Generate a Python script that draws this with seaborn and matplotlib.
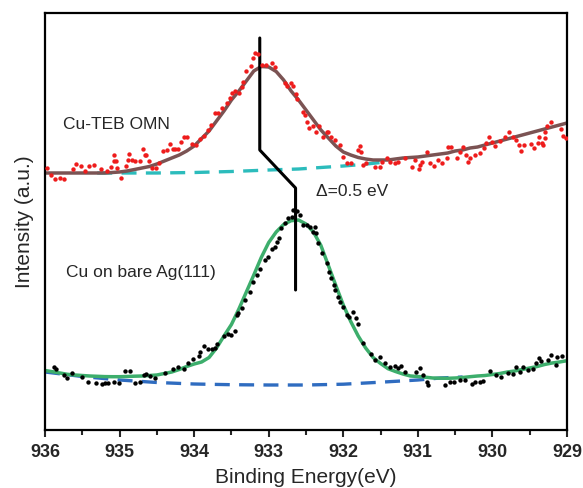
import numpy as np
import pandas as pd
import seaborn as sns
import matplotlib.pyplot as plt
from matplotlib.ticker import MultipleLocator

# ---- raw data (binding energy in eV, intensity in a.u.) ----
teb_e = [935.97, 935.92, 935.87, 935.80, 935.75, 935.63, 935.58, 935.52, 935.46, 935.41,
         935.34, 935.25, 935.17, 935.12, 935.08, 935.07, 935.05, 935.03, 934.98, 934.91,
         934.89, 934.87, 934.84, 934.79, 934.72, 934.68, 934.66, 934.64, 934.61, 934.57,
         934.51, 934.47, 934.42, 934.37, 934.32, 934.28, 934.26, 934.21, 934.18, 934.13,
         934.09, 934.03, 933.97, 933.92, 933.87, 933.82, 933.77, 933.72, 933.68, 933.62,
         933.56, 933.52, 933.49, 933.45, 933.40, 933.36, 933.34, 933.30, 933.24, 933.21,
         933.18, 933.14, 933.09, 933.03, 932.95, 932.92, 932.78, 932.75, 932.70, 932.67,
         932.63, 932.62, 932.54, 932.52, 932.49, 932.46, 932.40, 932.37, 932.33, 932.27,
         932.22, 932.20, 932.16, 932.11, 932.04, 932.00, 931.95, 931.89, 931.80, 931.78,
         931.76, 931.73, 931.69, 931.57, 931.51, 931.48, 931.42, 931.37, 931.31, 931.26,
         931.17, 931.08, 931.04, 930.99, 930.97, 930.95, 930.88, 930.84, 930.79, 930.73,
         930.68, 930.61, 930.59, 930.56, 930.48, 930.43, 930.39, 930.35, 930.33, 930.30,
         930.24, 930.17, 930.11, 930.09, 930.05, 930.00, 929.97, 929.90, 929.83, 929.78,
         929.73, 929.69, 929.65, 929.62, 929.57, 929.48, 929.44, 929.39, 929.38, 929.34,
         929.32, 929.30, 929.29, 929.27, 929.22, 929.08, 929.05, 929.02]
teb_i = [262, 255, 251, 252, 251, 261, 266, 264, 259, 264,
         265, 261, 259, 263, 275, 269, 269, 262, 252, 264,
         270, 276, 270, 269, 269, 281, 275, 275, 269, 262,
         262, 267, 279, 280, 286, 281, 281, 281, 288, 293,
         293, 286, 285, 291, 294, 300, 305, 317, 317, 322,
         327, 332, 337, 339, 337, 343, 348, 359, 364, 372,
         377, 376, 365, 365, 367, 363, 347, 344, 347, 344,
         336, 331, 318, 315, 308, 302, 304, 298, 304, 293,
         298, 298, 293, 290, 285, 273, 267, 267, 280, 284,
         278, 265, 267, 263, 263, 268, 272, 268, 267, 268,
         272, 263, 270, 261, 265, 268, 278, 267, 264, 270,
         267, 272, 283, 283, 272, 278, 283, 275, 268, 272,
         275, 277, 282, 287, 293, 288, 284, 289, 293, 298,
         293, 290, 285, 279, 285, 286, 282, 287, 293, 287,
         285, 292, 298, 304, 308, 301, 294, 292]

bare_e = [935.88, 935.85, 935.75, 935.71, 935.64, 935.51, 935.42, 935.31, 935.24, 935.20,
          935.15, 935.08, 935.01, 934.93, 934.86, 934.79, 934.73, 934.67, 934.65, 934.59,
          934.52, 934.39, 934.28, 934.21, 934.14, 934.08, 934.01, 933.94, 933.92, 933.87,
          933.81, 933.76, 933.72, 933.69, 933.60, 933.54, 933.50, 933.45, 933.43, 933.41,
          933.36, 933.32, 933.25, 933.21, 933.16, 933.12, 933.05, 933.01, 932.96, 932.92,
          932.89, 932.86, 932.83, 932.78, 932.74, 932.69, 932.67, 932.62, 932.58, 932.54,
          932.48, 932.45, 932.41, 932.38, 932.36, 932.34, 932.29, 932.22, 932.19, 932.16,
          932.13, 932.11, 932.07, 932.05, 932.00, 931.95, 931.92, 931.87, 931.83, 931.80,
          931.73, 931.63, 931.57, 931.51, 931.44, 931.37, 931.31, 931.26, 931.22, 931.17,
          931.02, 930.97, 930.93, 930.88, 930.86, 930.64, 930.57, 930.52, 930.44, 930.37,
          930.28, 930.23, 930.16, 930.12, 930.03, 929.95, 929.88, 929.79, 929.73, 929.68,
          929.63, 929.59, 929.52, 929.46, 929.42, 929.38, 929.35, 929.26, 929.21, 929.15,
          929.14, 929.07]
bare_i = [63, 61, 55, 52, 57, 53, 48, 47, 46, 47,
          47, 48, 47, 59, 59, 47, 48, 55, 56, 54,
          52, 57, 61, 63, 61, 67, 71, 74, 78, 84,
          81, 81, 82, 86, 94, 96, 95, 99, 115, 117,
          122, 130, 138, 148, 155, 161, 170, 173, 181, 183,
          188, 192, 202, 207, 212, 213, 220, 219, 215, 205,
          205, 203, 198, 203, 197, 187, 177, 167, 158, 152,
          145, 140, 133, 128, 123, 115, 113, 118, 112, 106,
          87, 76, 70, 73, 67, 63, 64, 62, 64, 58,
          58, 62, 55, 48, 45, 45, 48, 48, 50, 50,
          46, 48, 48, 49, 59, 55, 53, 57, 56, 63,
          58, 63, 60, 61, 67, 72, 69, 70, 75, 65,
          73, 74]

# fitted envelopes, read every 0.1 eV from 936.0 down to 929.0
fit_e = [936.0, 935.9, 935.8, 935.7, 935.6, 935.5, 935.4, 935.3, 935.2, 935.1,
         935.0, 934.9, 934.8, 934.7, 934.6, 934.5, 934.4, 934.3, 934.2, 934.1,
         934.0, 933.9, 933.8, 933.7, 933.6, 933.5, 933.4, 933.3, 933.2, 933.1,
         933.0, 932.9, 932.8, 932.7, 932.6, 932.5, 932.4, 932.3, 932.2, 932.1,
         932.0, 931.9, 931.8, 931.7, 931.6, 931.5, 931.4, 931.3, 931.2, 931.1,
         931.0, 930.9, 930.8, 930.7, 930.6, 930.5, 930.4, 930.3, 930.2, 930.1,
         930.0, 929.9, 929.8, 929.7, 929.6, 929.5, 929.4, 929.3, 929.2, 929.1,
         929.0]
teb_fit = [257, 257, 257, 257, 257, 257, 257, 257, 257, 257.5,
           258, 259, 260.5, 262, 263.5, 266, 269, 272, 275, 279,
           284, 291.5, 299, 309, 319, 330, 339, 349, 359, 363.5,
           363, 358.5, 350, 339, 330, 320, 310, 300, 292, 284,
           278, 275, 272.5, 271, 270, 270, 270, 271, 272, 272.5,
           273, 274, 275, 276, 277, 279, 280, 282, 283, 285,
           287, 289, 291, 293, 295, 297, 299, 301, 303, 305,
           307]
bare_fit = [59.5, 58.3, 57, 55.7, 55, 54.5, 54, 53.7, 53.4, 53.3,
            53.3, 53.5, 53.8, 54, 54.5, 55, 56.5, 58, 60.5, 63.5,
            66, 68, 72.5, 82, 94, 105.5, 121, 138, 155, 172.5,
            187.5, 198, 205.5, 209.3, 210, 206, 198, 184.5, 164.5, 144.5,
            125, 108.5, 94, 82, 72.5, 66.5, 61.3, 58.5, 56, 54,
            53.5, 52.8, 52, 51.8, 51.7, 52, 52.5, 53.3, 54, 54.5,
            55.5, 56.5, 58, 59, 60.5, 62, 63.5, 65.5, 67, 68,
            69.3]

# backgrounds
teb_bg_e = [935.3, 935.0, 934.5, 934.0, 933.5, 933.0, 932.6, 932.0, 931.75, 931.5, 931.35]
teb_bg_i = [257, 257, 257, 257.5, 258.5, 260, 261, 264, 265.5, 267.5, 268.5]
bare_bg_e = [936.0, 935.5, 935.0, 934.5, 934.0, 933.5, 933.0, 932.5, 932.0, 931.5, 931.0, 930.7, 930.4]
bare_bg_i = [58, 53.5, 50, 47.5, 46, 45.3, 45, 45, 45.8, 47.8, 50, 52, 53]

# peak shift marker
shift_e = [933.12, 933.12, 932.64, 932.64]
shift_i = [392, 280, 242, 140]

sns.set_style("ticks")
plt.rcParams['font.family'] = ['Liberation Sans', 'DejaVu Sans']

fig = plt.figure(figsize=(5.83, 4.88), dpi=100)
ax = fig.add_axes([45 / 583, 58 / 488, 522 / 583, 417 / 488])

dash = (0, (4.5, 2.8))
sns.lineplot(x=teb_bg_e, y=teb_bg_i, ax=ax, color="#2cbcbc", lw=2.4, linestyle=dash,
             estimator=None, sort=False)
sns.lineplot(x=bare_bg_e, y=bare_bg_i, ax=ax, color="#2f6cc0", lw=2.4, linestyle=dash,
             estimator=None, sort=False)
sns.lineplot(x=fit_e, y=teb_fit, ax=ax, color="#7b5353", lw=2.5, estimator=None, sort=False)
sns.lineplot(x=fit_e, y=bare_fit, ax=ax, color="#3dae6c", lw=2.5, estimator=None, sort=False)
sns.scatterplot(x=teb_e, y=teb_i, ax=ax, color="#ee1c1c", s=10, linewidth=0, zorder=3)
sns.scatterplot(x=bare_e, y=bare_i, ax=ax, color="black", s=10, linewidth=0, zorder=3)
sns.lineplot(x=shift_e, y=shift_i, ax=ax, color="black", lw=2.2, estimator=None, sort=False)

ax.text(935.76, 306, "Cu-TEB OMN", fontsize=12.5, va="center", ha="left")
ax.text(932.36, 238, "\u0394=0.5 eV", fontsize=12.5, va="center", ha="left")
ax.text(935.72, 158, "Cu on bare Ag(111)", fontsize=12.5, va="center", ha="left")

ax.set_xlim(936, 929)
ax.set_ylim(0, 417)
ax.xaxis.set_major_locator(MultipleLocator(1))
ax.xaxis.set_minor_locator(MultipleLocator(0.5))
ax.set_xticks(ax.get_xticks())
ax.set_xticklabels([f"{int(round(t))}" for t in ax.get_xticks()], fontweight="bold", fontsize=13)
ax.set_xlim(936, 929)
ax.set_yticks([])
ax.tick_params(axis="x", which="major", direction="out", length=5, width=1.5, pad=5)
ax.tick_params(axis="x", which="minor", direction="out", length=3.5, width=1.5)
for sp in ax.spines.values():
    sp.set_linewidth(1.6)
    sp.set_color("black")

ax.set_xlabel("Binding Energy(eV)", fontsize=15, labelpad=5)
ax.set_ylabel("Intensity (a.u.)", fontsize=15, labelpad=8)

fig.savefig("out.png", dpi=100)
